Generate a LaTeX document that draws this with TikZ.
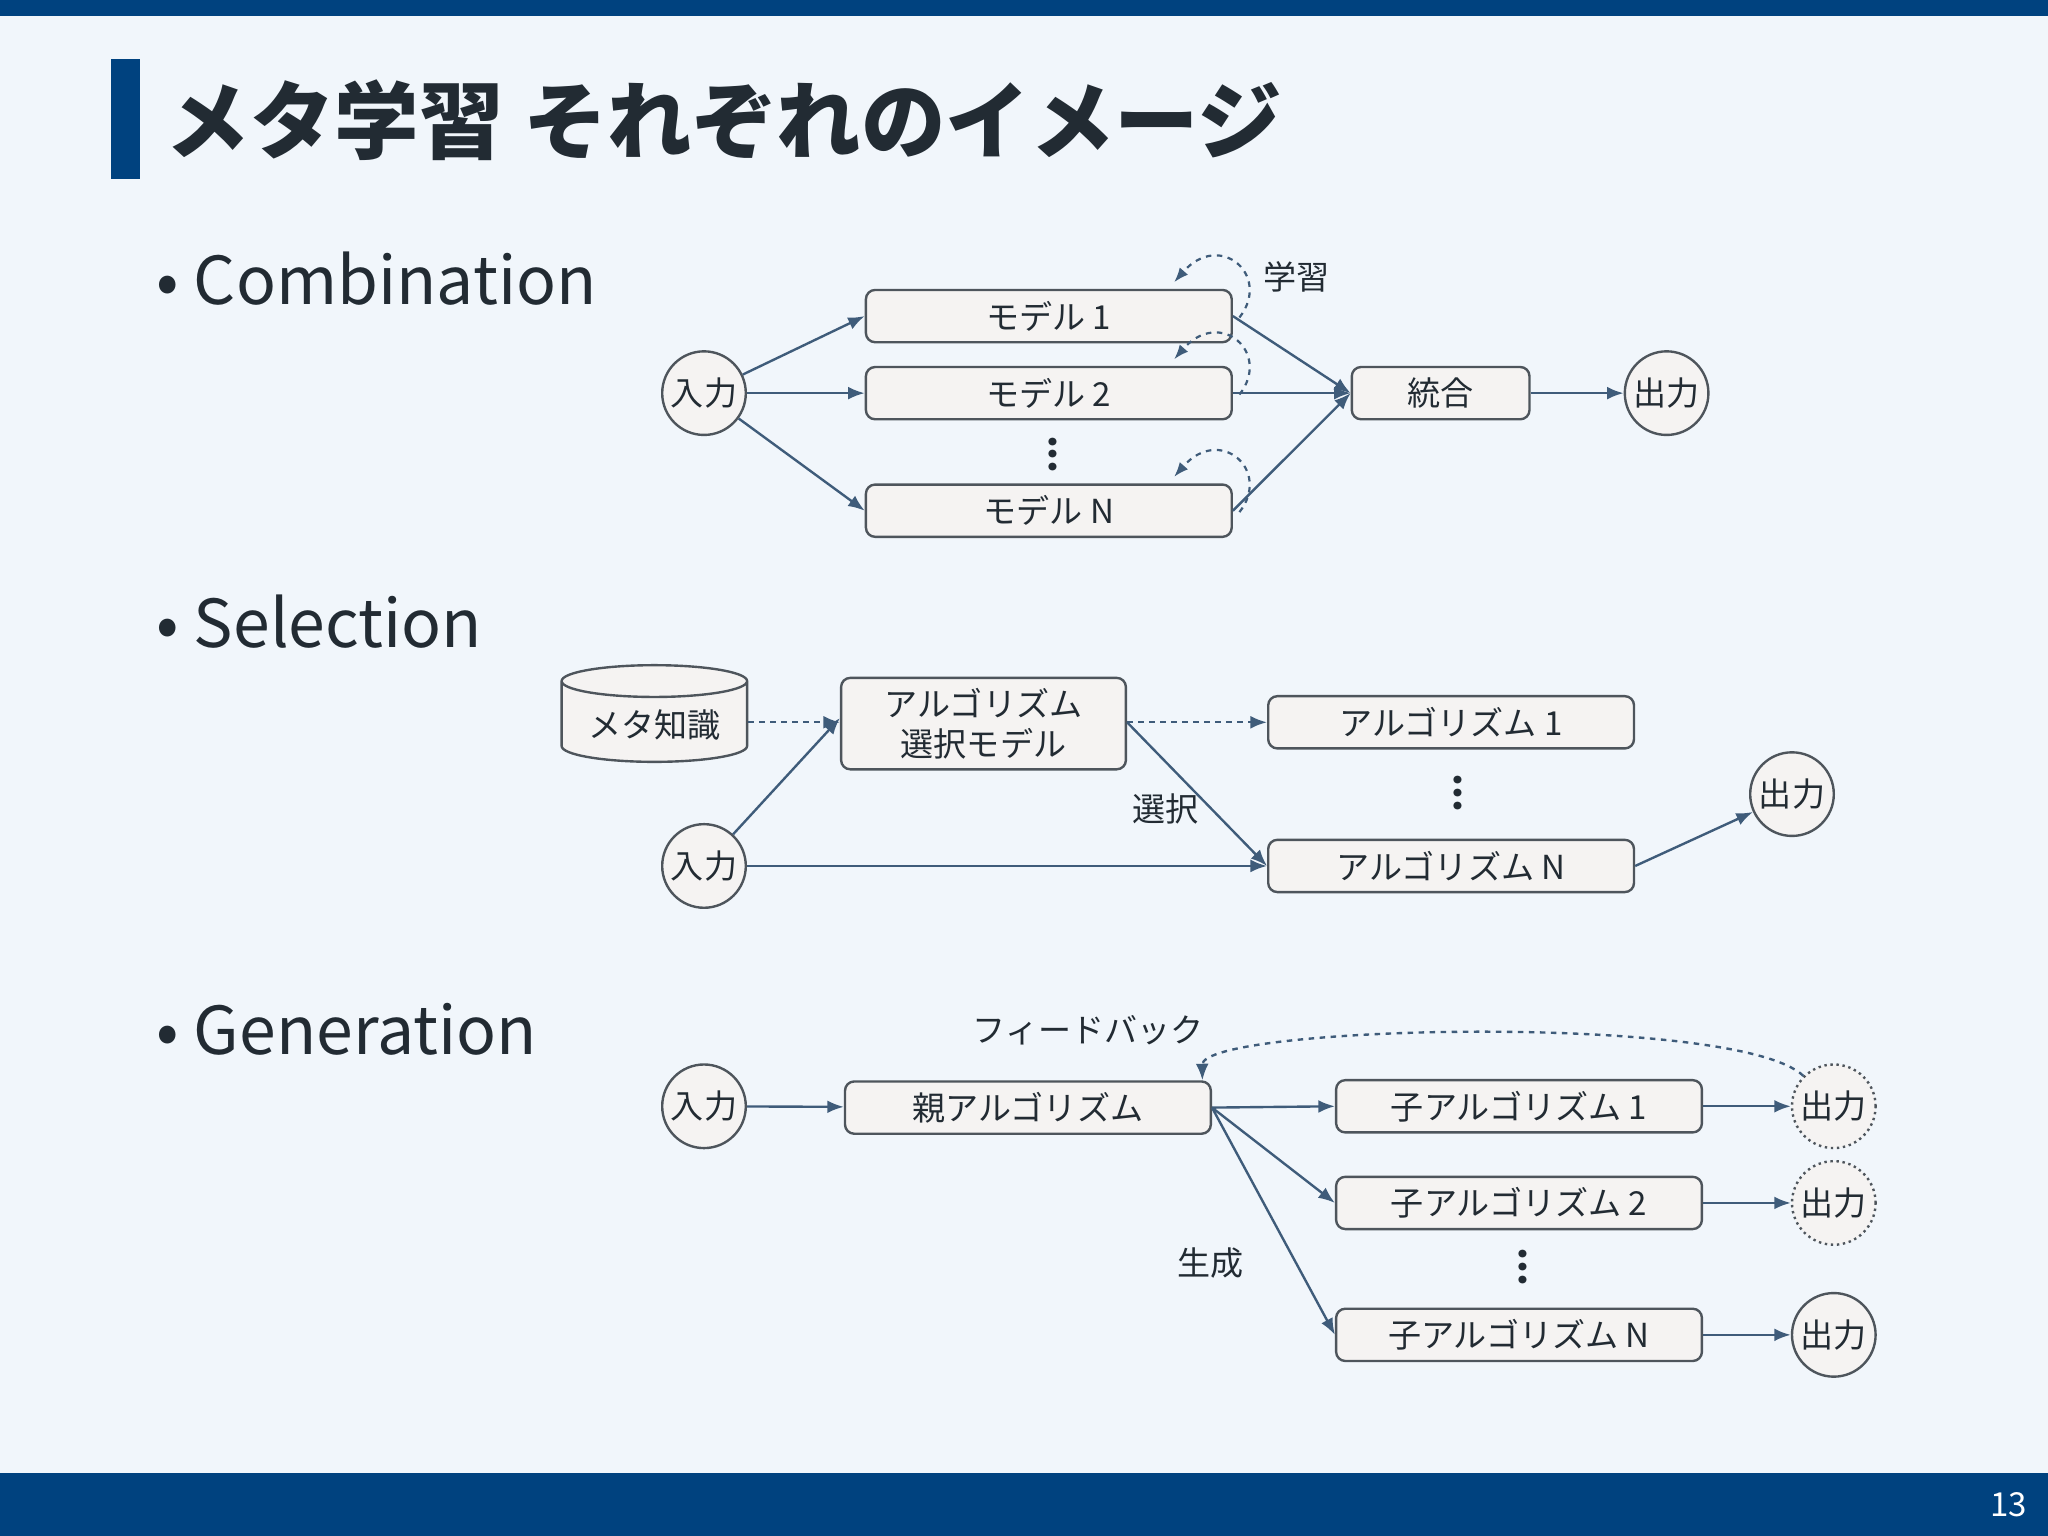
\documentclass[tikz,border=0pt]{standalone}
\usepackage{fontspec}
\setmainfont{Noto Sans CJK JP}
\usetikzlibrary{shapes.geometric,arrows.meta,calc}
\definecolor{bar}{HTML}{00427F}
\definecolor{bg}{HTML}{F1F6FB}
\definecolor{ln}{HTML}{3F5C7A}
\definecolor{bx}{HTML}{F5F3F2}
\definecolor{tx}{HTML}{222B33}
\tikzset{
 box/.style={draw=tx!80,line width=1.3pt,rounded corners=5pt,fill=bx,minimum width=7cm,minimum height=1cm,font=\fontsize{18}{20}\selectfont,text=tx,inner sep=0pt},
 circ/.style={circle,draw=tx!80,line width=1.3pt,fill=bx,minimum size=1.6cm,inner sep=0pt,font=\fontsize{18}{20}\selectfont,text=tx},
 ar/.style={draw=ln,line width=1.3pt,-{Latex[length=9pt,width=7pt]}},
 lab/.style={font=\fontsize{18}{20}\selectfont,text=tx},
 bul/.style={font=\fontsize{36}{40}\selectfont,text=tx,anchor=west},
 dots/.style={font=\fontsize{20}{20}\selectfont\bfseries,text=tx,rotate=90}
}
\begin{document}
\begin{tikzpicture}[x=0.025cm,y=-0.025cm]
\useasboundingbox (0,0) rectangle (1568,1176);
\fill[bg] (0,0) rectangle (1568,1176);
\fill[bar] (0,0) rectangle (1568,12);
\fill[bar] (0,1128) rectangle (1568,1176);
\node[text=white,font=\fontsize{18}{20}\selectfont] (pg) at (1538,1152) {13};
\fill[bar] (85,45) rectangle (107,137);
\node[anchor=west,font=\fontsize{46}{50}\selectfont\bfseries,text=tx] (title) at (122,92) {メタ学習 それぞれのイメージ};
\node[bul] (b1) at (115,213) {• Combination};
\node[bul] (b2) at (115,476) {• Selection};
\node[bul] (b3) at (115,788) {• Generation};
% Combination
\node[circ] (in1) at (539,301) {入力};
\node[box] (m1) at (803,242) {モデル 1};
\node[box] (m2) at (803,301) {モデル 2};
\node[box] (mn) at (803,391) {モデル N};
\node[dots] (d1) at (806,348) {...};
\node[box,minimum width=3.4cm] (tg) at (1103,301) {統合};
\node[circ] (out1) at (1276,301) {出力};
\node[lab] (gk) at (993,212) {学習};
\foreach \m in {m1,m2,mn}{
 \draw[ar] (in1) -- (\m.west);
 \draw[ar] (\m.east) -- (tg.west);
 \draw[draw=ln,line width=1.2pt,dashed,-{Latex[length=8pt,width=6pt]}] ([shift={(5,22)}]\m.north east) .. controls ([shift={(30,-10)}]\m.north east) and ([shift={(-10,-45)}]\m.north east) .. ([shift={(-45,-5)}]\m.north east);
}
\draw[ar] (tg) -- (out1);
% Selection
\node[cylinder,shape border rotate=90,aspect=0.22,draw=tx!80,line width=1.3pt,fill=bx,minimum width=3.55cm,minimum height=1.85cm,font=\fontsize{18}{20}\selectfont,text=tx] (mk) at (501,555) {メタ知識};
\node[box,minimum width=5.45cm,minimum height=1.75cm,align=center,font=\fontsize{18}{22}\selectfont] (sel) at (753,554) {アルゴリズム\\選択モデル};
\node[box] (a1) at (1111,553) {アルゴリズム 1};
\node[box] (an) at (1111,663) {アルゴリズム N};
\node[dots] (d2) at (1116,607) {...};
\node[circ] (in2) at (539,663) {入力};
\node[circ] (out2) at (1372,608) {出力};
\node[lab] (sk) at (892,619) {選択};
\draw[ar,dashed] (mk.east|-0,553) -- (sel.west|-0,553);
\draw[ar,dashed] (sel.east|-0,553) -- (a1.west);
\draw[ar] (in2) -- ([yshift=3]sel.west);
\draw[ar] (in2) -- (an.west);
\draw[ar] (sel.east|-0,553) -- (an.west);
\draw[ar] (an.east) -- (out2);
% Generation
\node[circ] (in3) at (539,847) {入力};
\node[box] (p) at (787,848) {親アルゴリズム};
\node[box] (c1) at (1163,847) {子アルゴリズム 1};
\node[box] (c2) at (1163,921) {子アルゴリズム 2};
\node[box] (cn) at (1163,1022) {子アルゴリズム N};
\node[dots] (d3) at (1166,970) {...};
\node[circ,dotted] (o1) at (1404,847) {出力};
\node[circ,dotted] (o2) at (1404,921) {出力};
\node[circ] (o3) at (1404,1022) {出力};
\node[lab] (fb) at (833,789) {フィードバック};
\node[lab] (sei) at (927,967) {生成};
\draw[ar] (in3) -- (p);
\draw[ar] (p.east) -- (c1.west);
\draw[ar] (p.east) -- (c2.west);
\draw[ar] (p.east) -- (cn.west);
\draw[ar] (c1) -- (o1);
\draw[ar] (c2) -- (o2);
\draw[ar] (cn) -- (o3);
\draw[ar,dashed] (o1.north west) .. controls (1330,775) and (920,785) .. ([xshift=95]p.north);
\end{tikzpicture}
\end{document}
